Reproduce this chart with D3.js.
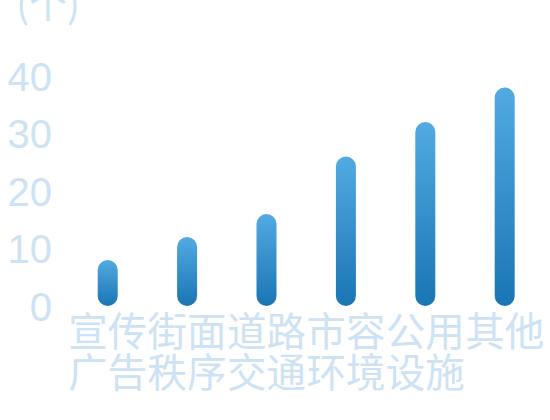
<!DOCTYPE html>
<html>
<head>
<meta charset="utf-8">
<script src="https://cdn.jsdelivr.net/npm/d3@7"></script>
<style>
  body { margin: 0; background: #fff; }
  .axis text { font-family: "Noto Sans CJK SC", "Noto Sans", sans-serif; }
  .axis.y text { font-family: "Liberation Sans", Arial, sans-serif; }
</style>
</head>
<body>
<script>
const categories = ['宣传广告', '街面秩序', '道路交通', '市容环境', '公用设施', '其他'];
const counts = [8, 12, 16, 26, 32, 38];
const yTicks = [0, 10, 20, 30, 40];
const unitLabel = '(个)';

const width = 550;
const height = 420;
const labelColor = '#cde2f3';

var svg = d3.select('body').append('svg')
    .attr('width', width)
    .attr('height', height);

const defs = svg.append('defs');
const grad = defs.append('linearGradient')
    .attr('id', 'barGrad')
    .attr('x1', 0).attr('y1', 0)
    .attr('x2', 0).attr('y2', 1);
grad.append('stop').attr('offset', '0%').attr('stop-color', '#52aae1');
grad.append('stop').attr('offset', '100%').attr('stop-color', '#1a75b4');

const xScale = d3.scaleBand()
    .domain(categories)
    .range([68, 544.4])
    .padding(0);

const yScale = d3.scaleLinear()
    .domain([0, 40])
    .range([306, 76]);

const barWidth = 20;

// y axis, no line, just big pale numbers
const yAxis = d3.axisLeft(yScale)
    .tickValues(yTicks)
    .tickSize(0)
    .tickPadding(0);

svg.append('g')
    .attr('class', 'axis y')
    .attr('transform', 'translate(52, 0)')
    .call(yAxis)
    .call(g => g.select('.domain').remove())
    .selectAll('text')
        .attr('fill', labelColor)
        .attr('font-size', 40)
        .attr('dy', '0.36em');

svg.append('text')
    .text(unitLabel)
    .attr('x', 48)
    .attr('y', 18)
    .attr('text-anchor', 'middle')
    .attr('fill', labelColor)
    .attr('font-size', 38)
    .attr('font-family', '"Noto Sans CJK SC", sans-serif');

// x axis labels, two chars per line
const xAxis = d3.axisBottom(xScale)
    .tickSize(0)
    .tickPadding(0)
    .tickFormat('');

const xg = svg.append('g')
    .attr('class', 'axis')
    .attr('transform', 'translate(0, 346)')
    .call(xAxis);
xg.select('.domain').remove();

xg.selectAll('.tick').each(function(d) {
    const t = d3.select(this).append('text')
        .attr('fill', labelColor)
        .attr('font-size', 39.5)
        .attr('text-anchor', 'middle')
        .attr('y', 0);
    for (let i = 0; i < d.length; i += 2) {
        t.append('tspan')
            .attr('x', 0)
            .attr('y', (i / 2) * 41)
            .text(d.slice(i, i + 2));
    }
});

svg.selectAll('.bar')
    .data(categories)
    .enter()
    .append('rect')
        .attr('class', 'bar')
        .attr('x', d => xScale(d) + xScale.bandwidth() / 2 - barWidth / 2)
        .attr('y', (d, i) => yScale(counts[i]))
        .attr('width', barWidth)
        .attr('height', (d, i) => yScale(0) - yScale(counts[i]))
        .attr('rx', barWidth / 2)
        .attr('fill', 'url(#barGrad)');
</script>
</body>
</html>
